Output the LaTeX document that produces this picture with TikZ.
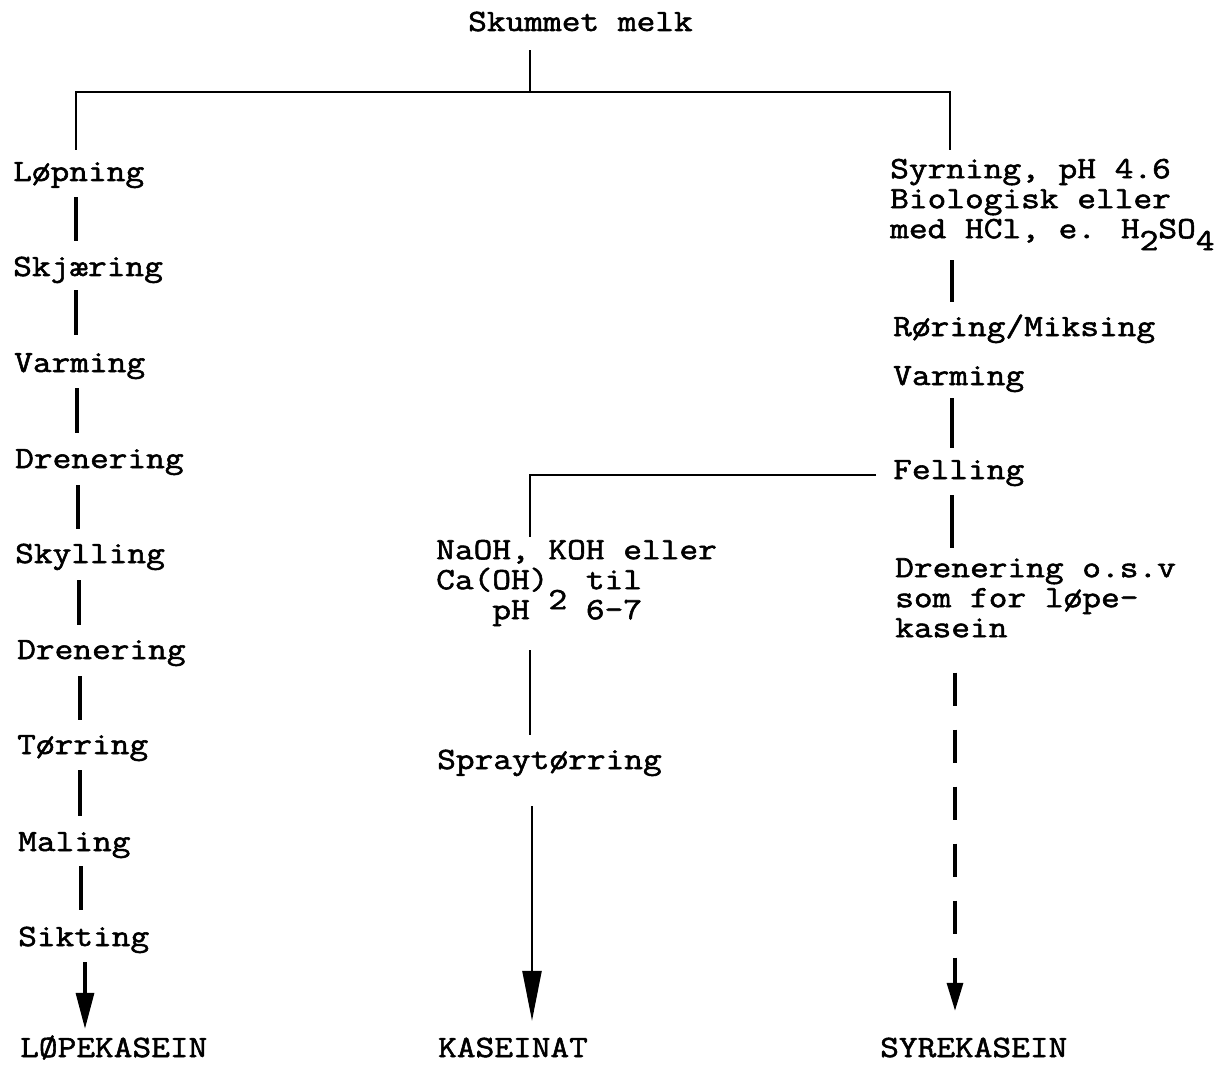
\documentclass[tikz,border=0pt]{standalone}
\usepackage{fontspec}
\setmainfont{Latin Modern Mono}[FakeBold=1.8,FakeStretch=1.172]
\usetikzlibrary{arrows.meta}
\setlength{\lineskiplimit}{-40pt}
\begin{document}
\begin{tikzpicture}[x=1pt,y=-1pt,
  lbl/.style={anchor=base west, inner xsep=0pt, inner ysep=6pt, text height=32pt, text depth=7pt, font=\fontsize{31}{30}\selectfont},
  blk/.style={anchor=north west, inner sep=0pt, align=left, font=\fontsize{31}{30}\selectfont},
  ln/.style={line width=3.3pt},
  lnt/.style={line width=2.4pt},
  tipL/.style={-{Triangle[length=36pt,width=18pt]}},
  tipM/.style={-{Triangle[length=50pt,width=19pt]}},
  tipR/.style={-{Triangle[length=28pt,width=16pt]}}]
\useasboundingbox (0,0) rectangle (1218,1075);
% coordinates
\coordinate (jt) at (530,92);
\coordinate (hl) at (76,92);
\coordinate (hr) at (950,92);
\coordinate (rc) at (952,0);
\coordinate (mc) at (530,0);
\coordinate (mc2) at (532,0);
% top
\node[lbl] (skm) at (468,31) {Skummet melk};
% left column
\node[lbl] (lop) at (13,181) {Løpning};
\node[lbl] (skj) at (13,276) {Skjæring};
\node[lbl] (var) at (14,372) {Varming};
\node[lbl] (dre) at (15,468) {Drenering};
\node[lbl] (sky) at (15,563) {Skylling};
\node[lbl] (dre2) at (17,659) {Drenering};
\node[lbl] (tor) at (17,754) {Tørring};
\node[lbl] (mal) at (18,851) {Maling};
\node[lbl] (sik) at (18,946) {Sikting};
\node[lbl] (lk) at (20,1057) {LØPEKASEIN};
% middle column
\node[blk] (naoh) at (436,535) {\rule{0pt}{24pt}NaOH, KOH eller\\Ca(OH)\smash{\raisebox{-20pt}{2}} til\\\hphantom{xxx}pH\hphantom{xxx}6-7};
\node[lbl] (spr) at (437,769) {Spraytørring};
\node[lbl] (kas) at (438,1057) {KASEINAT};
% right column
\node[blk] (syr) at (890,154) {\rule{0pt}{24pt}Syrning, pH 4.6\\Biologisk eller\\med HCl, e. H\raisebox{-12pt}{2}SO\raisebox{-12pt}{4}};
\node[lbl] (rm) at (893,336) {Røring/Miksing};
\node[lbl] (var2) at (893,385) {Varming};
\node[lbl] (fel) at (893,479) {Felling};
\node[blk] (drn) at (895,553) {\rule{0pt}{24pt}Drenering o.s.v\\som for løpe-\\kasein};
\node[lbl] (syk) at (880,1057) {SYREKASEIN};
% top connectors
\draw[lnt] ([shift={(0,6)}]skm.south -| jt) -- (jt);
\draw[lnt] ([shift={(0,7)}]lop.north -| hl) -- (hl) -- (hr) -- ([shift={(0,-4)}]syr.north -| hr);
% left chain
\draw[ln] ([shift={(63,3)}]lop.south west) -- ([shift={(63,3)}]lop.south west |- skj.north);
\draw[ln] ([shift={(63,1)}]skj.south west) -- ([shift={(63,1)}]skj.south west |- var.north);
\draw[ln] ([shift={(63,3)}]var.south west) -- ([shift={(63,3)}]var.south west |- dre.north);
\draw[ln] ([shift={(63,4)}]dre.south west) -- ([shift={(63,4)}]dre.south west |- sky.north);
\draw[ln] ([shift={(64,4)}]sky.south west) -- ([shift={(64,4)}]sky.south west |- dre2.north);
\draw[ln] ([shift={(63,4)}]dre2.south west) -- ([shift={(63,4)}]dre2.south west |- tor.north);
\draw[ln] ([shift={(63,3)}]tor.south west) -- ([shift={(63,3)}]tor.south west |- mal.north);
\draw[ln] ([shift={(63,2)}]mal.south west) -- ([shift={(63,2)}]mal.south west |- sik.north);
\draw[ln,tipL] ([shift={(67,3)}]sik.south west) -- ([shift={(67,10)}]sik.south west |- lk.north);
% right chain
\draw[ln] ([shift={(0,10)}]syr.south -| rc) -- ([shift={(0,4)}]rm.north -| rc);
\draw[ln] ([shift={(0,0)}]var2.south -| rc) -- ([shift={(0,7)}]fel.north -| rc);
\draw[ln] ([shift={(0,3)}]fel.south -| rc) -- ([shift={(0,-5)}]drn.north -| rc);
\draw[ln,tipR,dash pattern=on 33pt off 24pt] ([shift={(3,35)}]drn.south -| rc) -- ([shift={(3,-8)}]syk.north -| rc);
% middle chain
\draw[lnt] ([shift={(-17,-4)}]fel.base west) -| ([shift={(0,2)}]naoh.north -| mc);
\draw[lnt] ([shift={(0,24)}]naoh.south -| mc) -- ([shift={(0,4)}]spr.north -| mc);
\draw[lnt,tipM] ([shift={(0,24)}]spr.south -| mc2) -- ([shift={(0,2)}]kas.north -| mc2);
\end{tikzpicture}
\end{document}
